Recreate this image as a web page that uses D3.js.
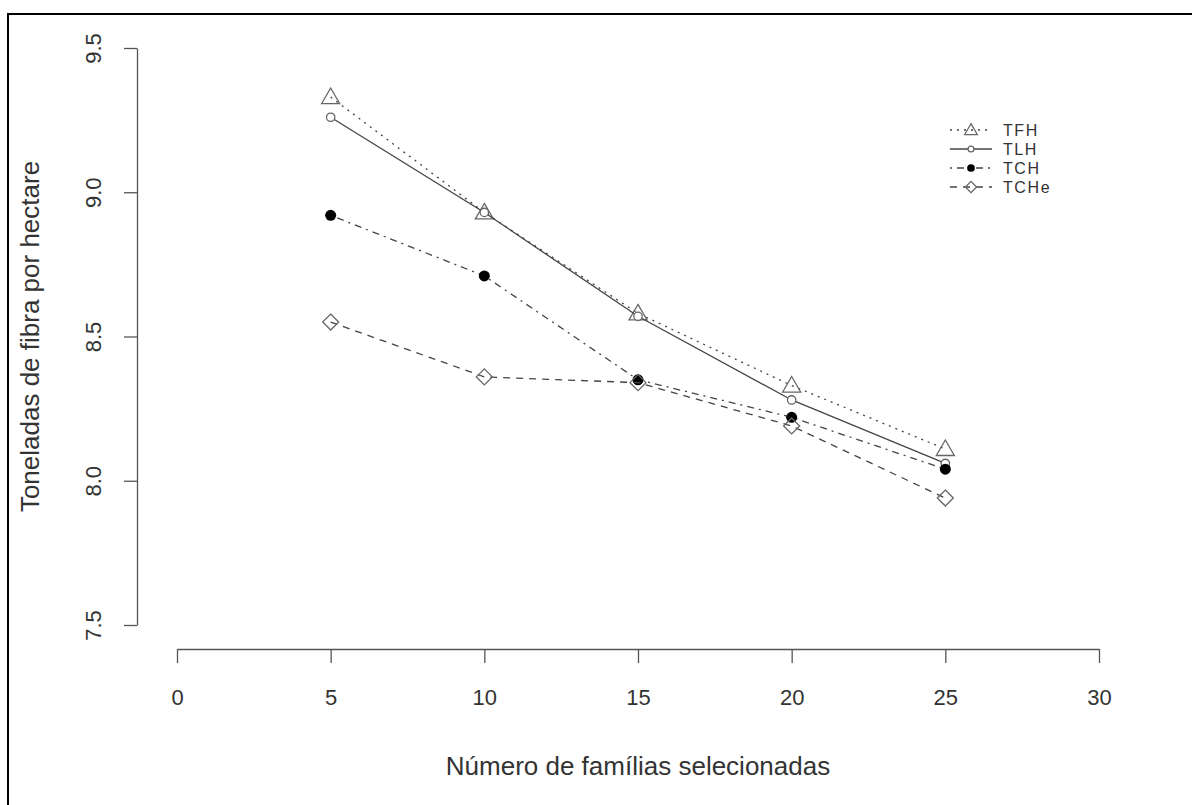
<!DOCTYPE html>
<html lang="pt">
<head>
<meta charset="UTF-8">
<title>Toneladas de fibra por hectare</title>
<script src="https://cdnjs.cloudflare.com/ajax/libs/d3/7.8.5/d3.min.js"></script>
<style>
  html, body { margin: 0; padding: 0; background: #fff; }
  svg { display: block; font-family: "Liberation Sans", Arial, sans-serif; }
  .tick-label, .axis-title, .legend-text { fill: #333; }
</style>
</head>
<body>
<div id="chart"></div>
<script>
// data
var familias = [5, 10, 15, 20, 25];
var tfh  = [9.33, 8.93, 8.58, 8.33, 8.11];
var tlh  = [9.26, 8.93, 8.57, 8.28, 8.06];
var tch  = [8.92, 8.71, 8.35, 8.22, 8.04];
var tche = [8.55, 8.36, 8.34, 8.19, 7.94];
var seriesNames = ['TFH', 'TLH', 'TCH', 'TCHe'];
var xTicks = [0, 5, 10, 15, 20, 25, 30];
var yTicks = [7.5, 8.0, 8.5, 9.0, 9.5];

var W = 1192, H = 805;

var svg = d3.select('#chart').append('svg')
    .attr('width', W)
    .attr('height', H);

// outer frame (clipped on right and bottom like the source image)
svg.append('rect')
    .attr('x', 8).attr('y', 14)
    .attr('width', W + 20).attr('height', H + 20)
    .attr('fill', 'none')
    .attr('stroke', '#000')
    .attr('stroke-width', 2);

var x = d3.scaleLinear().domain([0, 30]).range([177, 1099]);
var y = d3.scaleLinear().domain([7.5, 9.5]).range([625, 48]);

var axisColor = '#555';
var tickFont = 22;

// x axis
var xAxisY = 649;
var xAxis = svg.append('g').attr('transform', 'translate(0,' + xAxisY + ')')
    .call(d3.axisBottom(x).tickValues(xTicks).tickSize(14).tickSizeOuter(0).tickFormat(d3.format('d')));
xAxis.select('.domain').attr('stroke', axisColor).attr('stroke-width', 1.3);
xAxis.selectAll('.tick line').attr('stroke', axisColor).attr('stroke-width', 1.3);
xAxis.selectAll('.tick text')
    .attr('class', 'tick-label')
    .attr('y', 56)
    .attr('dy', 0)
    .attr('font-size', tickFont)
    .attr('font-family', '"Liberation Sans", Arial, sans-serif');

// y axis
var yAxisX = 137;
var yAxis = svg.append('g').attr('transform', 'translate(' + yAxisX + ',0)')
    .call(d3.axisLeft(y).tickValues(yTicks).tickSize(13).tickSizeOuter(0).tickFormat(d3.format('.1f')));
yAxis.select('.domain').attr('stroke', axisColor).attr('stroke-width', 1.3);
yAxis.selectAll('.tick line').attr('stroke', axisColor).attr('stroke-width', 1.3);
yAxis.selectAll('.tick text')
    .attr('class', 'tick-label')
    .attr('x', 0).attr('dy', 0)
    .attr('text-anchor', 'middle')
    .attr('transform', 'translate(-36,0) rotate(-90)')
    .attr('font-size', tickFont)
    .attr('font-family', '"Liberation Sans", Arial, sans-serif');

// axis titles
svg.append('text')
    .attr('class', 'axis-title')
    .attr('x', x(15)).attr('y', 775)
    .attr('text-anchor', 'middle')
    .attr('font-size', 26)
    .text('Número de famílias selecionadas');

svg.append('text')
    .attr('class', 'axis-title')
    .attr('transform', 'translate(39,' + ((y(7.5) + y(9.5)) / 2) + ') rotate(-90)')
    .attr('text-anchor', 'middle')
    .attr('font-size', 26)
    .text('Toneladas de fibra por hectare');

// series styles
var series = [
    { name: seriesNames[0], values: tfh,  dash: '2,5',      shape: 'triangle' },
    { name: seriesNames[1], values: tlh,  dash: null,       shape: 'circle' },
    { name: seriesNames[2], values: tch,  dash: '2,5,7,5',  shape: 'dot' },
    { name: seriesNames[3], values: tche, dash: '7,6',      shape: 'diamond' }
];

var lineColor = '#444';
var markColor = '#666';

var line = d3.line()
    .x(function (d) { return x(d[0]); })
    .y(function (d) { return y(d[1]); });

function drawMark(g, shape, cx, cy, scale) {
    scale = scale || 1;
    if (shape === 'triangle') {
        var s = 9 * scale;
        g.append('path')
            .attr('d', 'M' + cx + ',' + (cy - s) + 'L' + (cx + s) + ',' + (cy + s * 0.72) + 'L' + (cx - s) + ',' + (cy + s * 0.72) + 'Z')
            .attr('fill', 'none').attr('stroke', markColor).attr('stroke-width', 1.3);
    } else if (shape === 'circle') {
        g.append('circle')
            .attr('cx', cx).attr('cy', cy).attr('r', 4.2 * scale)
            .attr('fill', '#fff').attr('stroke', markColor).attr('stroke-width', 1.3);
    } else if (shape === 'dot') {
        g.append('circle')
            .attr('cx', cx).attr('cy', cy).attr('r', 5.5 * scale)
            .attr('fill', '#000');
    } else if (shape === 'diamond') {
        var r = 8 * scale;
        g.append('path')
            .attr('d', 'M' + cx + ',' + (cy - r) + 'L' + (cx + r) + ',' + cy + 'L' + cx + ',' + (cy + r) + 'L' + (cx - r) + ',' + cy + 'Z')
            .attr('fill', 'none').attr('stroke', markColor).attr('stroke-width', 1.3);
    }
}

var plot = svg.append('g');

series.forEach(function (s) {
    var pts = familias.map(function (f, i) { return [f, s.values[i]]; });
    var g = plot.append('g');
    g.append('path')
        .datum(pts)
        .attr('d', line)
        .attr('fill', 'none')
        .attr('stroke', lineColor)
        .attr('stroke-width', 1.3)
        .attr('stroke-dasharray', s.dash);
    pts.forEach(function (p) {
        drawMark(g, s.shape, x(p[0]), y(p[1]));
    });
});

// legend
var legend = svg.append('g');
var legX0 = 950, legX1 = 992, legTextX = 1003, legY0 = 130, legStep = 19;
series.forEach(function (s, i) {
    var ly = legY0 + i * legStep;
    legend.append('line')
        .attr('x1', legX0).attr('x2', legX1)
        .attr('y1', ly).attr('y2', ly)
        .attr('stroke', lineColor)
        .attr('stroke-width', 1.3)
        .attr('stroke-dasharray', s.dash);
    drawMark(legend, s.shape, (legX0 + legX1) / 2, ly, 0.7);
    legend.append('text')
        .attr('class', 'legend-text')
        .attr('x', legTextX).attr('y', ly + 6)
        .attr('font-size', 16)
        .attr('letter-spacing', 1.6)
        .text(s.name);
});
</script>
</body>
</html>
